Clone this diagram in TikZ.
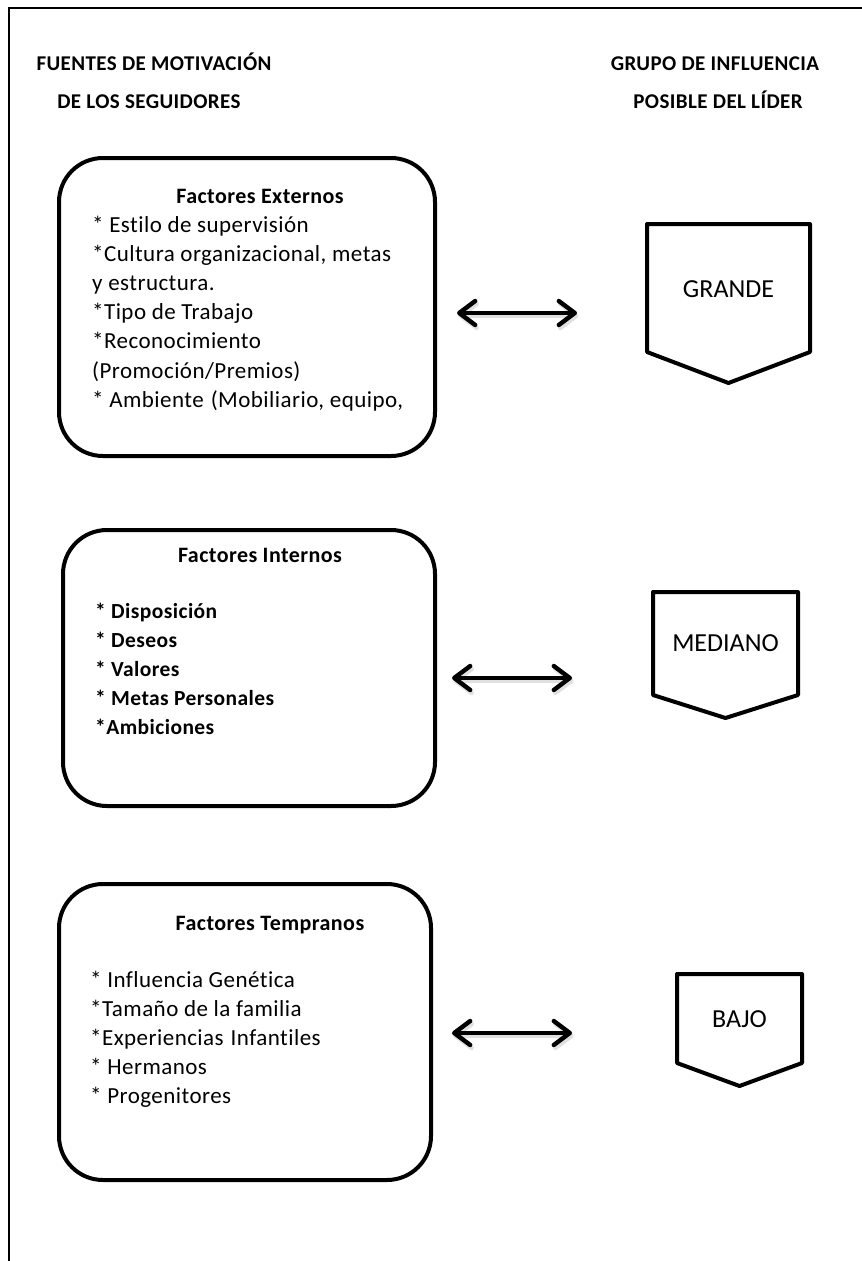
\documentclass[tikz,border=0pt]{standalone}
\usepackage{fontspec}
\setmainfont{Carlito}
\newfontfamily\spaced[LetterSpace=2,RawFeature={-liga}]{Carlito}
\usetikzlibrary{arrows.meta}
\begin{document}
\begin{tikzpicture}[x=1pt,y=-1pt,
  frameline/.style={line width=1.4pt},
  heading/.style={font=\spaced\bfseries\fontsize{21}{25}\selectfont, anchor=base, inner sep=0pt},
  factorbox/.style={draw, line width=4pt, rounded corners=44pt, inner sep=0pt, outer sep=0pt},
  boxtitle/.style={font=\spaced\bfseries\fontsize{22}{26}\selectfont, anchor=base, inner sep=0pt},
  item/.style={font=\spaced\fontsize{23}{27}\selectfont, anchor=base west, inner sep=0pt},
  bolditem/.style={font=\spaced\bfseries\fontsize{21.5}{25}\selectfont, anchor=base west, inner sep=0pt},
  penta/.style={draw, line width=4pt, line join=round},
  plabel/.style={font=\fontsize{26}{30}\selectfont, inner sep=0pt},
  biarrow/.style={line width=4.4pt, line cap=round,
    {Straight Barb[length=16pt,width=24pt,round]}-{Straight Barb[length=16pt,width=24pt,round]},
    preaction={draw=black!12, line width=4.4pt, transform canvas={shift={(1.5pt,-3pt)}}}}
]
\useasboundingbox (0,0) rectangle (862,1261);
\fill[white] (0,0) rectangle (862,1261);

% frame
\coordinate (fb) at (9,1261);
\coordinate (fc) at (9,8);
\coordinate (fr) at (862,8);
\draw[frameline] (fb) -- (fc) -- (fr);

% headings
\node[heading] (h1) at (154,70) {FUENTES DE MOTIVACIÓN};
\node[heading] (h2) at (149,108) {DE LOS SEGUIDORES};
\node[heading] (h3) at (715,70) {GRUPO DE INFLUENCIA};
\node[heading] (h4) at (718,108) {POSIBLE DEL LÍDER};

% box 1
\node[factorbox, minimum width=376pt, minimum height=298pt] (ext) at (247,307) {};
\node[boxtitle] (extT) at (260,203) {Factores Externos};
\foreach \t [count=\i] in {{* Estilo de supervisión},{*Cultura organizacional, metas},{y estructura.},{*Tipo de Trabajo},{*Reconocimiento},{(Promoción/Premios)},{* Ambiente\hspace{7pt}(Mobiliario, equipo,}}
  \node[item] (ext\i) at (92,{232+29.2*(\i-1)}) {\t};

% box 2
\node[factorbox, minimum width=372pt, minimum height=276pt] (int) at (249,668) {};
\node[boxtitle] (intT) at (260,562) {Factores Internos};
\foreach \t [count=\i] in {{* Disposición},{* Deseos},{* Valores},{* Metas Personales},{*Ambiciones}}
  \node[bolditem] (int\i) at (95,{618+29*(\i-1)}) {\t};

% box 3
\node[factorbox, minimum width=372pt, minimum height=296pt] (tem) at (245,1032) {};
\node[boxtitle] (temT) at (270,930) {Factores Tempranos};
\foreach \t [count=\i] in {{* Influencia Genética},{*Tamaño de la familia},{*Experiencias\hspace{7pt}Infantiles},{* Hermanos},{* Progenitores}}
  \node[item] (tem\i) at (90,{987+29*(\i-1)}) {\t};

% influence shapes
\draw[penta] (647,224) -- (810,224) -- (810,352) -- (728.5,383) -- (647,352) -- cycle;
\node[plabel] (grande) at (728.5,289) {GRANDE};
\draw[penta] (653,592) -- (798,592) -- (798,695) -- (725.5,718) -- (653,695) -- cycle;
\node[plabel] (mediano) at (725.5,643) {MEDIANO};
\draw[penta] (677,974) -- (802,974) -- (802,1063) -- (739.5,1086) -- (677,1063) -- cycle;
\node[plabel] (bajo) at (739.5,1019) {BAJO};

% arrows
\coordinate (a1w) at (457,313); \coordinate (a1e) at (577,313);
\coordinate (a2w) at (452,678); \coordinate (a2e) at (572,678);
\coordinate (a3w) at (452,1033); \coordinate (a3e) at (572,1033);
\draw[biarrow] (a1w) -- (a1e);
\draw[biarrow] (a2w) -- (a2e);
\draw[biarrow] (a3w) -- (a3e);
\end{tikzpicture}
\end{document}
